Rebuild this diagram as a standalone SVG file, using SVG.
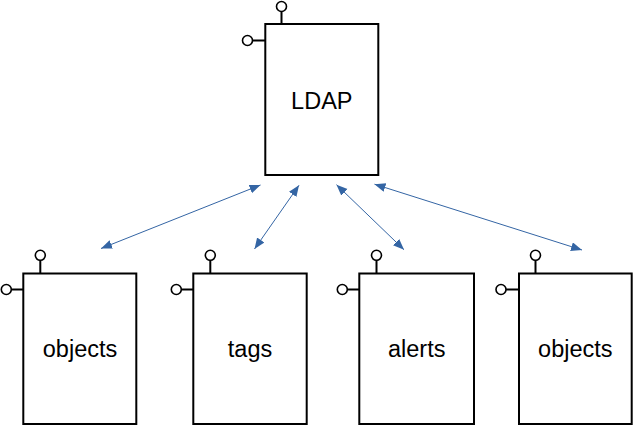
<svg xmlns="http://www.w3.org/2000/svg" width="633" height="426" viewBox="0 0 633 426">
<style>
.box{fill:#fff;stroke:#000;stroke-width:2}
.stem{stroke:#000;stroke-width:2;fill:none}
.pin{fill:#fff;stroke:#000;stroke-width:1.6}
.lbl{font-family:"Liberation Sans",Arial,sans-serif;font-size:23.5px;fill:#000;text-anchor:middle}
.conn{stroke:#3465a4;stroke-width:1;fill:none;marker-start:url(#ah);marker-end:url(#ah)}
</style>
<defs>
<marker id="ah" markerUnits="userSpaceOnUse" markerWidth="12" markerHeight="10" refX="11" refY="4.5" orient="auto-start-reverse">
<path d="M0,0 L11,4.5 L0,9 z" fill="#3465a4"/>
</marker>
</defs>
<rect width="633" height="426" fill="#fff"/>
<g id="connectors">
<line class="conn" x1="101" y1="248.5" x2="260.5" y2="185"/>
<line class="conn" x1="254.5" y1="249" x2="299" y2="185.3"/>
<line class="conn" x1="336.5" y1="184.7" x2="404" y2="249.7"/>
<line class="conn" x1="374.5" y1="184.2" x2="582" y2="250"/>
</g>
<g id="ldap">
<line class="stem" x1="281.5" y1="11.5" x2="281.5" y2="24"/>
<circle class="pin" cx="281.5" cy="6.5" r="5"/>
<line class="stem" x1="252.5" y1="40.5" x2="265" y2="40.5"/>
<circle class="pin" cx="247.5" cy="40.5" r="5"/>
<rect class="box" x="265.3" y="24" width="113" height="151"/>
<text class="lbl" x="321.8" y="108.5">LDAP</text>
</g>
<g id="objects1">
<line class="stem" x1="40.3" y1="260" x2="40.3" y2="273.5"/>
<circle class="pin" cx="40.3" cy="255.3" r="5"/>
<line class="stem" x1="11" y1="289.5" x2="23.3" y2="289.5"/>
<circle class="pin" cx="6.3" cy="289.5" r="5"/>
<rect class="box" x="23.3" y="273.5" width="113" height="150.5"/>
<text class="lbl" x="80" y="357">objects</text>
</g>
<g id="tags">
<line class="stem" x1="210.3" y1="260" x2="210.3" y2="273.5"/>
<circle class="pin" cx="210.3" cy="255.3" r="5"/>
<line class="stem" x1="181" y1="289.5" x2="193.3" y2="289.5"/>
<circle class="pin" cx="176.3" cy="289.5" r="5"/>
<rect class="box" x="193.3" y="273.5" width="113.4" height="150.5"/>
<text class="lbl" x="250" y="357">tags</text>
</g>
<g id="alerts">
<line class="stem" x1="376.5" y1="260" x2="376.5" y2="273.5"/>
<circle class="pin" cx="376.5" cy="255.3" r="5"/>
<line class="stem" x1="347" y1="289.5" x2="359.3" y2="289.5"/>
<circle class="pin" cx="342.3" cy="289.5" r="5"/>
<rect class="box" x="359.3" y="273.5" width="114.7" height="150.5"/>
<text class="lbl" x="416.7" y="357">alerts</text>
</g>
<g id="objects2">
<line class="stem" x1="535.5" y1="260" x2="535.5" y2="273.5"/>
<circle class="pin" cx="535.5" cy="255.3" r="5"/>
<line class="stem" x1="506" y1="289.5" x2="519" y2="289.5"/>
<circle class="pin" cx="501" cy="289.5" r="5"/>
<rect class="box" x="519" y="273.5" width="112.7" height="150.5"/>
<text class="lbl" x="575.3" y="357">objects</text>
</g>
</svg>
